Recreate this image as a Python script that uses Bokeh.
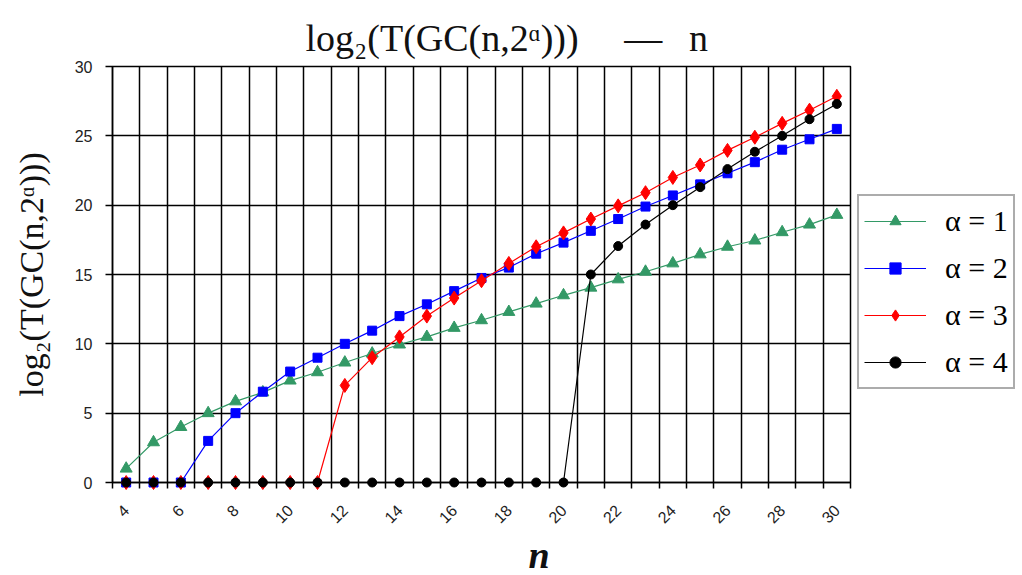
from math import pi
from bokeh.plotting import figure
from bokeh.models import FixedTicker, Legend, LegendItem, Range1d, Title
from bokeh.embed import file_html
from bokeh.resources import INLINE

# ---- data -------------------------------------------------------------
n_values = [4, 5, 6, 7, 8, 9, 10, 11, 12, 13, 14, 15, 16, 17, 18, 19, 20,
            21, 22, 23, 24, 25, 26, 27, 28, 29, 30]
alpha1 = [1.0, 2.9, 4.0, 5.0, 5.85, 6.5, 7.35, 7.95, 8.65, 9.3, 9.95, 10.5,
          11.15, 11.7, 12.3, 12.9, 13.5, 14.05, 14.65, 15.2, 15.8, 16.45,
          17.0, 17.45, 18.05, 18.6, 19.3]
alpha2 = [0, 0, 0, 3.0, 5.0, 6.55, 8.0, 9.0, 10.0, 10.95, 12.0, 12.85, 13.8,
          14.75, 15.5, 16.5, 17.3, 18.15, 19.0, 19.9, 20.7, 21.5, 22.3, 23.1,
          24.0, 24.75, 25.5]
alpha3 = [0, 0, 0, 0, 0, 0, 0, 0, 7.0, 9.0, 10.5, 12.0, 13.3, 14.55, 15.8,
          17.0, 18.0, 19.0, 19.95, 20.9, 22.0, 22.9, 23.95, 24.9, 25.9,
          26.85, 27.85]
alpha4 = [0, 0, 0, 0, 0, 0, 0, 0, 0, 0, 0, 0, 0, 0, 0, 0, 0, 15.0, 17.05,
          18.6, 20.0, 21.3, 22.6, 23.85, 25.0, 26.2, 27.3]
series_labels = ["α = 1", "α = 2", "α = 3", "α = 4"]
x_tick_labels = [4, 6, 8, 10, 12, 14, 16, 18, 20, 22, 24, 26, 28, 30]
y_tick_labels = [0, 5, 10, 15, 20, 25, 30]
chart_title = "log\u2082(T(GC(n,2\u1d45)))\u2003\u2009\u2014\u2002\u2009n"
y_title = "log\u2082(T(GC(n,2\u1d45)))"
x_title = "n"

# ---- figure -----------------------------------------------------------
p = figure(frame_width=738, frame_height=416,
           min_border_left=112, min_border_right=164,
           min_border_top=66, min_border_bottom=80,
           x_range=Range1d(n_values[0] - 0.5, n_values[-1] + 0.5),
           y_range=Range1d(y_tick_labels[0], y_tick_labels[-1]),
           output_backend="svg", toolbar_location=None,
           background_fill_color="white", border_fill_color="white")

p.outline_line_color = "black"
p.outline_line_width = 1.5

boundaries = [v - 0.5 for v in n_values] + [n_values[-1] + 0.5]

# title
p.title.text = chart_title
p.title.align = "left"
p.title.offset = 193
p.title.text_font = "Liberation Serif"
p.title.text_font_size = "38px"
p.title.text_font_style = "normal"
p.title.text_color = "#111111"
p.title.standoff = 15

# x axis
p.xaxis.ticker = FixedTicker(ticks=x_tick_labels, minor_ticks=boundaries)
p.xaxis.major_tick_out = 0
p.xaxis.major_tick_in = 0
p.xaxis.minor_tick_out = 6
p.xaxis.minor_tick_in = 0
p.xaxis.minor_tick_line_color = "black"
p.xaxis.minor_tick_line_width = 1.5
p.xaxis.axis_line_color = "black"
p.xaxis.axis_line_width = 1.5
p.xaxis.major_label_orientation = pi / 4
p.xaxis.major_label_standoff = 19
p.xaxis.major_label_text_font = "Liberation Sans"
p.xaxis.major_label_text_font_size = "16px"
p.xaxis.major_label_text_color = "#222222"

# x title, below the axis
p.add_layout(Title(text=x_title, align="left", offset=416,
                   text_font="Liberation Serif", text_font_size="38px",
                   text_font_style="bold italic", text_color="#111111",
                   standoff=0), "below")

# y axis
p.yaxis.ticker = FixedTicker(ticks=y_tick_labels, minor_ticks=[])
p.yaxis.major_tick_out = 7
p.yaxis.major_tick_in = 0
p.yaxis.major_tick_line_color = "black"
p.yaxis.major_tick_line_width = 1.5
p.yaxis.axis_line_color = "black"
p.yaxis.axis_line_width = 1.5
p.yaxis.major_label_standoff = 13
p.yaxis.major_label_text_font = "Liberation Sans"
p.yaxis.major_label_text_font_size = "16px"
p.yaxis.major_label_text_color = "#222222"
p.yaxis.axis_label = y_title
p.yaxis.axis_label_text_font = "Liberation Serif"
p.yaxis.axis_label_text_font_size = "34px"
p.yaxis.axis_label_text_font_style = "normal"
p.yaxis.axis_label_text_color = "#111111"
p.yaxis.axis_label_standoff = 22

# grids
p.xgrid.ticker = FixedTicker(ticks=boundaries)
p.ygrid.ticker = FixedTicker(ticks=y_tick_labels)
p.xgrid.grid_line_color = "black"
p.ygrid.grid_line_color = "black"
p.xgrid.grid_line_width = 1.5
p.ygrid.grid_line_width = 1.5
p.xgrid.grid_line_alpha = 1.0
p.ygrid.grid_line_alpha = 1.0

# ---- series -----------------------------------------------------------
styles = [
    (alpha1, "#339966", "triangle", 12),
    (alpha2, "#0000FF", "square", 9),
    (alpha3, "#FF0000", "diamond", 14),
    (alpha4, "#000000", "circle", 9),
]
items = []
for (vals, color, marker, size), lab in zip(styles, series_labels):
    lr = p.line(n_values, vals, line_color=color, line_width=1.2, level="overlay")
    sr = p.scatter(n_values, vals, marker=marker, size=size,
                   fill_color=color, line_color=color, level="overlay")
    items.append(LegendItem(label=lab, renderers=[lr, sr]))

legend = Legend(items=items, location=(7, 93),
                glyph_width=62, glyph_height=28, label_height=40,
                label_standoff=19, spacing=7, padding=5, margin=0,
                label_text_font="Liberation Serif", label_text_font_size="30px",
                label_text_color="black",
                border_line_color="#5a5a5a", border_line_width=2,
                background_fill_color="white", background_fill_alpha=1.0)
p.add_layout(legend, "right")

open("out.html", "w").write(file_html(p, INLINE))
